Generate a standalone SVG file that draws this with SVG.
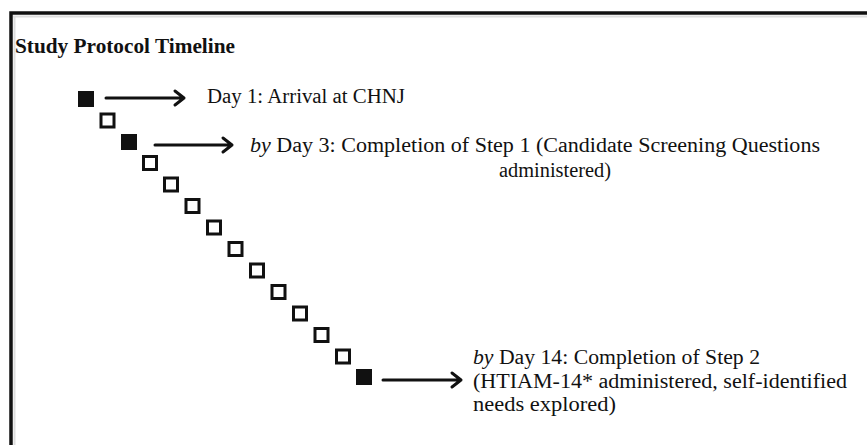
<svg xmlns="http://www.w3.org/2000/svg" width="867" height="445" viewBox="0 0 867 445">
<style>
.t{font-family:"Liberation Serif","Times New Roman",serif;font-size:20px;fill:#111}
.title{font-family:"Liberation Serif","Times New Roman",serif;font-size:20px;font-weight:bold;fill:#111}
.f{fill:#111}
.o{fill:#fff;stroke:#111;stroke-width:3}
.a{stroke:#111;stroke-width:3;fill:none;stroke-linecap:round;stroke-linejoin:round}
</style>
<rect width="867" height="445" fill="#fff"/>
<g id="frame">
<path d="M11 445 L11 13 L867 13" fill="none" stroke="#111" stroke-width="3.5"/>
<path d="M13 16.5 L867 16.5 M14.5 16 L14.5 445" fill="none" stroke="#ddd" stroke-width="2"/>
</g>
<g id="title"><text class="title" x="15" y="53" textLength="220" lengthAdjust="spacingAndGlyphs">Study Protocol Timeline</text></g>
<g id="squares">
<rect class="f" x="78" y="91" width="16" height="16"/>
<rect class="o" x="101" y="114" width="13" height="13"/>
<rect class="f" x="121" y="134" width="16" height="16"/>
<rect class="o" x="143.5" y="156.5" width="13" height="13"/>
<rect class="o" x="164.5" y="178" width="13" height="13"/>
<rect class="o" x="186" y="199.5" width="13" height="13"/>
<rect class="o" x="207.5" y="221" width="13" height="13"/>
<rect class="o" x="229" y="242.5" width="13" height="13"/>
<rect class="o" x="250.5" y="264" width="13" height="13"/>
<rect class="o" x="272" y="285.5" width="13" height="13"/>
<rect class="o" x="293.5" y="307" width="13" height="13"/>
<rect class="o" x="315" y="328.5" width="13" height="13"/>
<rect class="o" x="336.5" y="350" width="13" height="13"/>
<rect class="f" x="356" y="369" width="16" height="16"/>
</g>
<g id="connectors">
<path class="a" d="M106 98 H184 M175 91 L184 98 L175 105"/>
<path class="a" d="M155 145 H232 M223 138 L232 145 L223 152"/>
<path class="a" d="M383 380 H461 M452 373 L461 380 L452 387"/>
</g>
<g id="label1"><text class="t" x="207" y="103" textLength="198" lengthAdjust="spacingAndGlyphs">Day 1: Arrival at CHNJ</text></g>
<g id="label2">
<text class="t" x="250" y="152" textLength="570" lengthAdjust="spacingAndGlyphs"><tspan font-style="italic">by</tspan> Day 3: Completion of Step 1 (Candidate Screening Questions</text>
<text class="t" x="499" y="177" textLength="112" lengthAdjust="spacingAndGlyphs">administered)</text>
</g>
<g id="label3">
<text class="t" x="473" y="364" textLength="287" lengthAdjust="spacingAndGlyphs"><tspan font-style="italic">by</tspan> Day 14: Completion of Step 2</text>
<text class="t" x="473" y="388" textLength="374" lengthAdjust="spacingAndGlyphs">(HTIAM-14* administered, self-identified</text>
<text class="t" x="473" y="411" textLength="143" lengthAdjust="spacingAndGlyphs">needs explored)</text>
</g>
</svg>
